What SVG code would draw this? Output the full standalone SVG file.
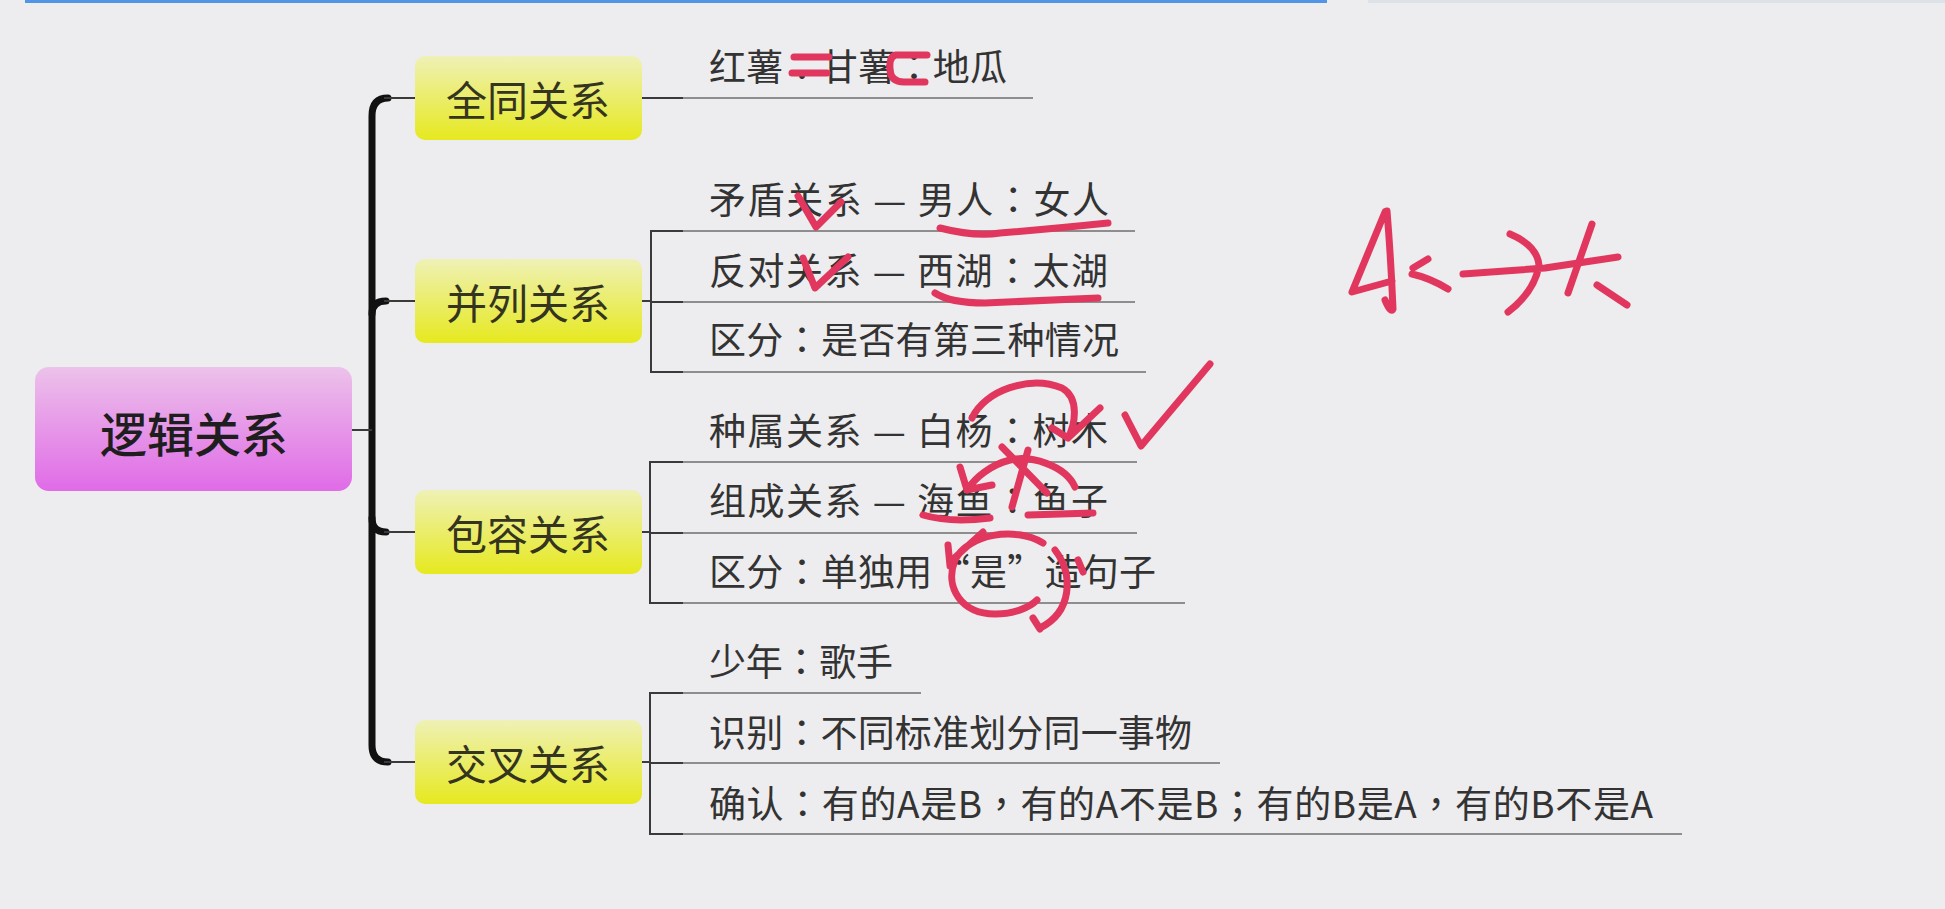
<svg xmlns="http://www.w3.org/2000/svg" width="1945" height="909" viewBox="0 0 1945 909">
<defs>
<linearGradient id="gRoot" x1="0" y1="0" x2="0" y2="1">
<stop offset="0" stop-color="#ecc2ea"/>
<stop offset="1" stop-color="#e06be7"/>
</linearGradient>
<linearGradient id="gY" x1="0" y1="0" x2="0" y2="1">
<stop offset="0" stop-color="#eff1b6"/>
<stop offset="1" stop-color="#e6e91e"/>
</linearGradient>
<style>
.root{font-family:"Noto Sans CJK SC","Noto Sans",sans-serif;font-size:47px;fill:#1e1e1e;font-weight:500}
.l1{font-family:"Noto Sans CJK SC","Noto Sans",sans-serif;font-size:41px;fill:#35351f}
.l2{font-family:"Noto Sans CJK SC","Noto Sans",sans-serif;font-size:37px;fill:#333}
.p{font-family:"Noto Sans CJK TC","Noto Sans CJK SC",sans-serif}
.ul{stroke:#8e8e8e;stroke-width:2;fill:none}
.stub{stroke:#3a3a3a;stroke-width:2;fill:none}
.trunk{stroke:#111;stroke-width:7;fill:none;stroke-linecap:round}
.ink{stroke:#e1375f;stroke-width:7;fill:none;stroke-linecap:round;stroke-linejoin:round}
</style>
</defs>
<rect width="1945" height="909" fill="#edecee"/>
<g id="topbar">
<rect x="25" y="0" width="1302" height="3" fill="#5196e6"/>
<rect x="1368" y="0" width="577" height="3" fill="#dde1e8"/>
</g>
<g id="connectors">
<path class="trunk" d="M388 98 Q372 98 372 116 V745 Q372 762 388 762"/>
<path class="trunk" d="M372 314 Q372 301 386 301"/>
<path class="trunk" d="M372 518 Q372 532 386 532"/>
<path class="stub" d="M352 430 H372"/>
<path class="stub" d="M384 98 H415 M384 301 H415 M384 532 H415 M384 762 H415"/>
<path class="stub" d="M642 98 H683"/>
<path class="stub" d="M642 301 H651 M683 231 H651 V372 H683 M651 302 H683"/>
<path class="stub" d="M642 532 H650 M683 462 H650 V603 H683 M650 533 H683"/>
<path class="stub" d="M642 762 H650 M683 693 H650 V834 H683 M650 763 H683"/>
</g>
<g id="root">
<rect x="35" y="367" width="317" height="124" rx="14" fill="url(#gRoot)"/>
<text class="root" x="194" y="431" text-anchor="middle" dominant-baseline="central">逻辑关系</text>
</g>
<g id="n-quantong">
<rect x="415" y="56" width="227" height="84" rx="10" fill="url(#gY)"/>
<text class="l1" x="528" y="98" text-anchor="middle" dominant-baseline="central">全同关系</text>
</g>
<g id="n-binglie">
<rect x="415" y="259" width="227" height="84" rx="10" fill="url(#gY)"/>
<text class="l1" x="528" y="301" text-anchor="middle" dominant-baseline="central">并列关系</text>
</g>
<g id="n-baorong">
<rect x="415" y="490" width="227" height="84" rx="10" fill="url(#gY)"/>
<text class="l1" x="528" y="532" text-anchor="middle" dominant-baseline="central">包容关系</text>
</g>
<g id="n-jiaocha">
<rect x="415" y="720" width="227" height="84" rx="10" fill="url(#gY)"/>
<text class="l1" x="528" y="762" text-anchor="middle" dominant-baseline="central">交叉关系</text>
</g>
<g id="t-hongshu">
<path class="ul" d="M683 98 H1033"/>
<text class="l2" x="709" y="65" dominant-baseline="central" textLength="298" lengthAdjust="spacing">红薯<tspan class="p">：</tspan>甘薯<tspan class="p">：</tspan>地瓜</text>
</g>
<g id="t-maodun">
<path class="ul" d="M683 231 H1135"/>
<text class="l2" x="709" y="198" dominant-baseline="central" textLength="400" lengthAdjust="spacing">矛盾关系 — 男人<tspan class="p">：</tspan>女人</text>
</g>
<g id="t-fandui">
<path class="ul" d="M683 302 H1135"/>
<text class="l2" x="709" y="269" dominant-baseline="central" textLength="399" lengthAdjust="spacing">反对关系 — 西湖<tspan class="p">：</tspan>太湖</text>
</g>
<g id="t-qufen1">
<path class="ul" d="M683 372 H1146"/>
<text class="l2" x="709" y="338" dominant-baseline="central" textLength="410" lengthAdjust="spacing">区分<tspan class="p">：</tspan>是否有第三种情况</text>
</g>
<g id="t-zhongshu">
<path class="ul" d="M683 462 H1137"/>
<text class="l2" x="709" y="429" dominant-baseline="central" textLength="399" lengthAdjust="spacing">种属关系 — 白杨<tspan class="p">：</tspan>树木</text>
</g>
<g id="t-zucheng">
<path class="ul" d="M683 533 H1137"/>
<text class="l2" x="709" y="499" dominant-baseline="central" textLength="399" lengthAdjust="spacing">组成关系 — 海鱼<tspan class="p">：</tspan>鱼子</text>
</g>
<g id="t-qufen2">
<path class="ul" d="M683 603 H1185"/>
<text class="l2" x="709" y="570" dominant-baseline="central" textLength="447" lengthAdjust="spacing">区分<tspan class="p">：</tspan>单独用“是”造句子</text>
</g>
<g id="t-shaonian">
<path class="ul" d="M683 693 H921"/>
<text class="l2" x="709" y="660" dominant-baseline="central" textLength="184" lengthAdjust="spacing">少年<tspan class="p">：</tspan>歌手</text>
</g>
<g id="t-shibie">
<path class="ul" d="M683 763 H1220"/>
<text class="l2" x="709" y="731" dominant-baseline="central" textLength="483" lengthAdjust="spacing">识别<tspan class="p">：</tspan>不同标准划分同一事物</text>
</g>
<g id="t-queren">
<path class="ul" d="M683 834 H1682"/>
<text class="l2" x="709" y="802" dominant-baseline="central" textLength="944" lengthAdjust="spacing">确认<tspan class="p">：</tspan>有的A是B<tspan class="p">，</tspan>有的A不是B<tspan class="p">；</tspan>有的B是A<tspan class="p">，</tspan>有的B不是A</text>
</g>
<g id="annotations">
<path class="ink" d="M794 57 H829 M792 73 H827"/>
<path class="ink" d="M927 55 H896 Q889 56 890 70 Q891 82 904 82 H925"/>
<path class="ink" d="M798 196 L816 227 L841 202"/>
<path class="ink" d="M803 258 L815 288 L848 257"/>
<path class="ink" d="M940 228 Q975 237 1000 233 Q1050 229 1108 223"/>
<path class="ink" d="M935 293 Q950 303 985 303 L1098 298"/>
<path class="ink" d="M1125 415 L1141 446 L1210 364"/>
<path class="ink" d="M972 418 C985 390 1030 375 1062 388 C1080 398 1075 425 1068 438 M1100 408 L1068 438 L1052 428"/>
<path class="ink" d="M1002 447 L1047 493 M1028 450 L1012 507"/>
<path class="ink" d="M1075 487 C1065 465 1030 455 1010 460 C990 465 975 478 967 490 M960 467 L967 490 L992 485"/>
<path class="ink" d="M923 515 Q950 523 990 518 M1028 515 L1093 513"/>
<path class="ink" d="M1043 543 C1015 526 968 534 955 560 C944 588 962 614 995 614 C1015 614 1030 607 1037 600 M983 532 L951 561 M948 545 L950 566"/>
<path class="ink" d="M1055 550 C1074 575 1072 612 1040 628 M1033 618 L1040 629 M1078 560 L1083 572"/>
<path class="ink" d="M1385 212 L1352 292 L1392 281 M1387 211 Q1391 260 1393 309 Q1391 314 1385 300"/>
<path class="ink" d="M1413 268 L1428 259 M1412 274 Q1430 278 1448 289"/>
<path class="ink" d="M1463 274 L1545 268 L1618 257 M1510 234 Q1538 246 1539 266 Q1534 292 1508 312"/>
<path class="ink" d="M1592 224 L1568 293 M1597 285 L1627 305"/>
</g>
</svg>
